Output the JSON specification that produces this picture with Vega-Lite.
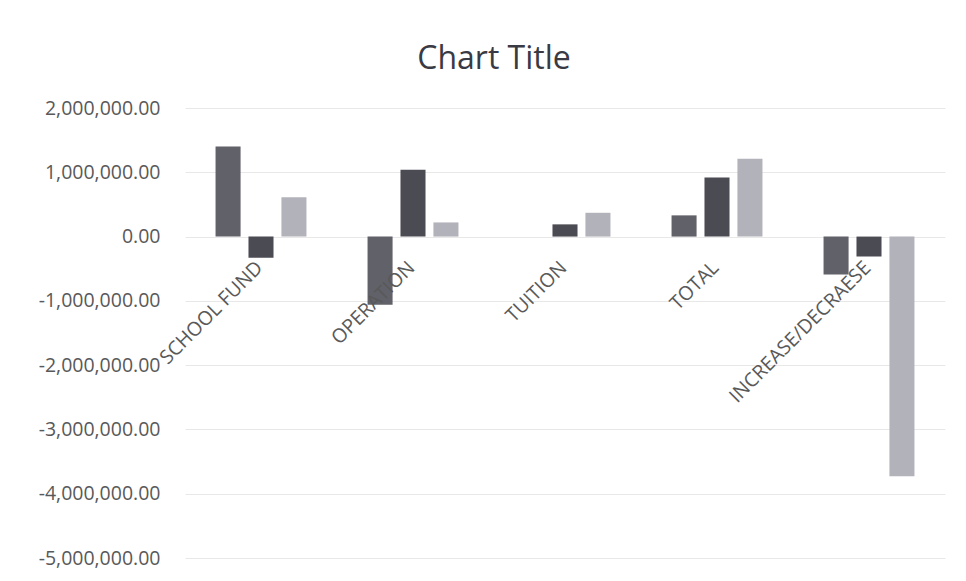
{
  "$schema": "https://vega.github.io/schema/vega-lite/v6.json",
  "autosize": {"type": "none"},
  "width": 760,
  "height": 450,
  "padding": {"left": 185, "top": 108, "right": 21, "bottom": 23},
  "background": "white",
  "config": {"view": {"stroke": null}, "font": "Open Sans"},
  "title": {"text": "Chart Title", "fontSize": 32, "font": "Open Sans", "fontWeight": "normal", "color": "#3a3a44", "anchor": "middle", "dx": -71, "offset": 22},
  "datasets": {
    "bars": [
      {"category": "SCHOOL FUND", "series": "Series1", "value": 1400000},
      {"category": "SCHOOL FUND", "series": "Series2", "value": -330000},
      {"category": "SCHOOL FUND", "series": "Series3", "value": 610000},
      {"category": "OPERATION", "series": "Series1", "value": -1060000},
      {"category": "OPERATION", "series": "Series2", "value": 1040000},
      {"category": "OPERATION", "series": "Series3", "value": 220000},
      {"category": "TUITION", "series": "Series1", "value": 0},
      {"category": "TUITION", "series": "Series2", "value": 190000},
      {"category": "TUITION", "series": "Series3", "value": 370000},
      {"category": "TOTAL", "series": "Series1", "value": 330000},
      {"category": "TOTAL", "series": "Series2", "value": 920000},
      {"category": "TOTAL", "series": "Series3", "value": 1210000},
      {"category": "INCREASE/DECRAESE", "series": "Series1", "value": -590000},
      {"category": "INCREASE/DECRAESE", "series": "Series2", "value": -310000},
      {"category": "INCREASE/DECRAESE", "series": "Series3", "value": -3730000}
    ],
    "cats": [
      {"category": "SCHOOL FUND"},
      {"category": "OPERATION"},
      {"category": "TUITION"},
      {"category": "TOTAL"},
      {"category": "INCREASE/DECRAESE"}
    ]
  },
  "layer": [
    {
      "data": {"name": "bars"},
      "mark": {"type": "bar"},
      "encoding": {
        "x": {"field": "category", "type": "nominal", "sort": null,
              "scale": {"paddingInner": 0.35, "paddingOuter": 0.175},
              "axis": null},
        "xOffset": {"field": "series", "type": "nominal",
                    "scale": {"paddingInner": 0.24, "paddingOuter": 0.12}},
        "y": {"field": "value", "type": "quantitative",
              "scale": {"domain": [-5000000, 2000000], "nice": false, "zero": false},
              "axis": {"title": null, "values": [-5000000, -4000000, -3000000, -2000000, -1000000, 0, 1000000, 2000000],
                       "labelExpr": "replace(format(datum.value, ',.2f'), '\u2212', '-')",
                       "labelFontSize": 19.5, "labelColor": "#595959", "labelPadding": 25,
                       "domain": false, "ticks": false, "gridColor": "#e8e8e8", "gridWidth": 1, "labelFont": "Open Sans"}},
        "color": {"field": "series", "type": "nominal",
                  "scale": {"domain": ["Series1", "Series2", "Series3"], "range": ["#616169", "#4b4b53", "#b2b2ba"]},
                  "legend": null}
      }
    },
    {
      "data": {"name": "cats"},
      "mark": {"type": "text", "angle": -45, "align": "right", "baseline": "top", "fontSize": 19.5, "color": "#595959", "font": "Open Sans", "dx": -21, "dy": 10},
      "encoding": {
        "x": {"field": "category", "type": "nominal", "sort": null},
        "y": {"datum": 0},
        "text": {"field": "category"}
      }
    }
  ]
}
